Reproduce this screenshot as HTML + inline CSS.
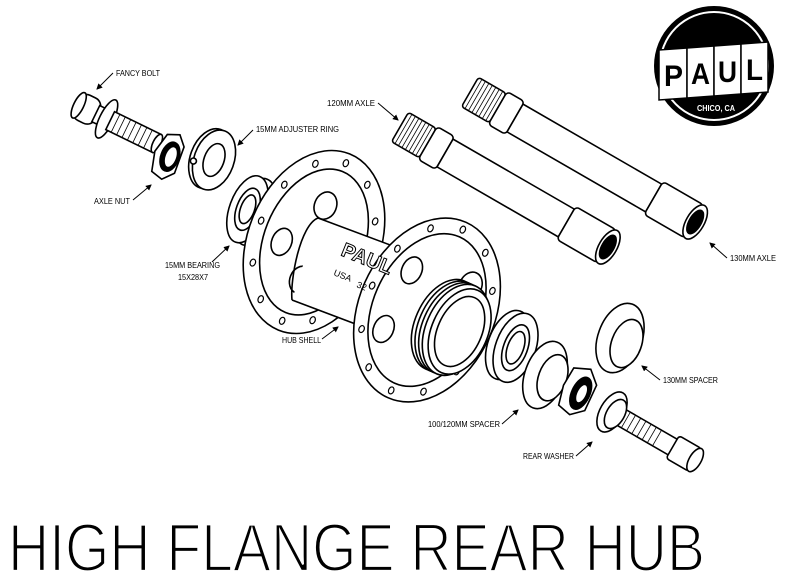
<!DOCTYPE html>
<html><head><meta charset="utf-8"><style>
html,body{margin:0;padding:0;background:#fff;}
svg{display:block;}
text{font-family:"Liberation Sans Narrow","Liberation Sans",sans-serif;}
</style></head><body>
<svg width="787" height="584" viewBox="0 0 787 584" xmlns="http://www.w3.org/2000/svg">
<defs>
<marker id="ah" markerWidth="6" markerHeight="6" refX="5" refY="3" orient="auto"><path d="M0,0 L6,3 L0,6 z" fill="#000"/></marker>
<g id="hole"><ellipse rx="2.6" ry="3.6" fill="#fff" stroke="#000" stroke-width="1.2"/></g>
</defs>
<g fill="#fff" stroke="#000" stroke-width="1.6">
<!-- 130mm axle -->
<g transform="translate(470,92) rotate(30)">
<rect x="0" y="-17" width="32" height="34" rx="3"/>
<g stroke-width="0.8"><line x1="4" y1="-17" x2="4" y2="17"/><line x1="8" y1="-17" x2="8" y2="17"/><line x1="12" y1="-17" x2="12" y2="17"/><line x1="16" y1="-17" x2="16" y2="17"/><line x1="20" y1="-17" x2="20" y2="17"/><line x1="24" y1="-17" x2="24" y2="17"/><line x1="28" y1="-17" x2="28" y2="17"/></g>
<rect x="32" y="-19" width="20" height="38" rx="4"/>
<rect x="52" y="-16" width="160" height="32"/>
<rect x="212" y="-19" width="47" height="38" rx="4"/>
<ellipse cx="260" cy="0" rx="9" ry="19"/>
<ellipse cx="260" cy="0" rx="6" ry="13" fill="#000"/>
</g>
<!-- 120mm axle -->
<g transform="translate(400,127) rotate(30)">
<rect x="0" y="-17" width="32" height="34" rx="3"/>
<g stroke-width="0.8"><line x1="4" y1="-17" x2="4" y2="17"/><line x1="8" y1="-17" x2="8" y2="17"/><line x1="12" y1="-17" x2="12" y2="17"/><line x1="16" y1="-17" x2="16" y2="17"/><line x1="20" y1="-17" x2="20" y2="17"/><line x1="24" y1="-17" x2="24" y2="17"/><line x1="28" y1="-17" x2="28" y2="17"/></g>
<rect x="32" y="-19" width="20" height="38" rx="4"/>
<rect x="52" y="-16" width="140" height="32"/>
<rect x="192" y="-19" width="47" height="38" rx="4"/>
<ellipse cx="240" cy="0" rx="9" ry="19"/>
<ellipse cx="240" cy="0" rx="6" ry="13" fill="#000"/>
</g>
<!-- fancy bolt -->
<g transform="translate(76,104) rotate(26)">
<rect x="0" y="-14" width="24" height="28" rx="9"/>
<ellipse cx="3" cy="0" rx="5" ry="14"/>
<rect x="22" y="-9" width="10" height="18"/>
<ellipse cx="34" cy="0" rx="7" ry="21"/>
<rect x="38" y="-10" width="52" height="20"/>
<g stroke-width="0.8"><line x1="44" y1="-10" x2="44" y2="10"/><line x1="50" y1="-10" x2="50" y2="10"/><line x1="56" y1="-10" x2="56" y2="10"/><line x1="62" y1="-10" x2="62" y2="10"/><line x1="68" y1="-10" x2="68" y2="10"/><line x1="74" y1="-10" x2="74" y2="10"/><line x1="80" y1="-10" x2="80" y2="10"/></g>
<ellipse cx="90" cy="0" rx="4" ry="10"/>
</g>
<!-- axle nut -->
<g transform="translate(168,156) rotate(20)">
<path d="M-8,-20 L4,-24 L12,-14 L12,14 L2,24 L-10,20 L-14,0 z"/>
<ellipse cx="2" cy="0" rx="9" ry="15" fill="#000"/>
<ellipse cx="3" cy="0" rx="6" ry="11"/>
</g>
<!-- adjuster ring -->
<g transform="translate(214,160) rotate(20)">
<ellipse cx="-4" cy="0" rx="20" ry="31"/>
<ellipse cx="0" cy="0" rx="20" ry="31"/>
<ellipse cx="0" cy="0" rx="10" ry="17"/>
<circle cx="-19" cy="8" r="3"/>
</g>
<!-- left bearing -->
<g transform="translate(255,212) rotate(20)">
<ellipse cx="0" cy="0" rx="18" ry="35"/>
<ellipse cx="-8" cy="0" rx="18" ry="35"/>
<ellipse cx="-8" cy="0" rx="11" ry="22"/>
<ellipse cx="-8" cy="0" rx="7" ry="15"/>
</g>
<!-- hub left flange -->
<g transform="translate(314,242) rotate(22)">
<ellipse cx="0" cy="0" rx="66" ry="95"/>
<ellipse cx="0" cy="0" rx="50" ry="76"/>
<ellipse cx="-3" cy="-38" rx="11" ry="14"/>
<ellipse cx="30" cy="-10" rx="10" ry="14"/>
<ellipse cx="-30" cy="12" rx="10" ry="14"/>
<ellipse cx="2" cy="40" rx="11" ry="14"/>
<use href="#hole" x="57" y="0"/><use href="#hole" x="49" y="42"/><use href="#hole" x="28" y="73"/><use href="#hole" x="0" y="85"/><use href="#hole" x="-28" y="73"/><use href="#hole" x="-49" y="42"/><use href="#hole" x="-57" y="0"/><use href="#hole" x="-49" y="-42"/><use href="#hole" x="-28" y="-73"/><use href="#hole" x="0" y="-85"/><use href="#hole" x="28" y="-73"/><use href="#hole" x="49" y="-42"/>
</g>
<!-- hub body -->
<path d="M318,218 L425,258 L398,340 L292,300 z" stroke="none"/>
<line x1="318" y1="218" x2="425" y2="258"/>
<line x1="292" y1="300" x2="398" y2="340"/>
<path d="M318,218 C300,225 290,280 292,300" fill="none"/>
<!-- hub right flange -->
<g transform="translate(427,310) rotate(24)">
<ellipse cx="0" cy="0" rx="68" ry="96"/>
<ellipse cx="0" cy="0" rx="54" ry="80"/>
<ellipse cx="-30" cy="-30" rx="10" ry="14"/>
<ellipse cx="30" cy="-40" rx="11" ry="14"/>
<ellipse cx="-32" cy="35" rx="10" ry="14"/>
<use href="#hole" x="60" y="0"/><use href="#hole" x="52" y="44"/><use href="#hole" x="30" y="76"/><use href="#hole" x="0" y="88"/><use href="#hole" x="-30" y="76"/><use href="#hole" x="-52" y="44"/><use href="#hole" x="-60" y="0"/><use href="#hole" x="-52" y="-44"/><use href="#hole" x="-30" y="-76"/><use href="#hole" x="0" y="-88"/><use href="#hole" x="30" y="-76"/><use href="#hole" x="52" y="-44"/>
</g>
<!-- threaded freehub -->
<g transform="translate(445,325) rotate(24)">
<ellipse cx="0" cy="0" rx="30" ry="48"/>
<ellipse cx="4" cy="0" rx="30" ry="48"/>
<ellipse cx="8" cy="0" rx="30" ry="48"/>
<ellipse cx="12" cy="0" rx="30" ry="48"/>
<ellipse cx="16" cy="0" rx="28" ry="45"/>
<ellipse cx="16" cy="0" rx="22" ry="37"/>
</g>
<!-- right bearing -->
<g transform="translate(508,345) rotate(20)">
<ellipse cx="0" cy="0" rx="20" ry="36"/>
<ellipse cx="8" cy="0" rx="20" ry="36"/>
<ellipse cx="8" cy="0" rx="12" ry="24"/>
<ellipse cx="8" cy="0" rx="8" ry="17"/>
</g>
<!-- 100/120 spacer -->
<g transform="translate(545,375) rotate(20)">
<ellipse cx="0" cy="0" rx="20" ry="35"/>
<ellipse cx="8" cy="0" rx="14" ry="24"/>
</g>
<!-- 130 spacer -->
<g transform="translate(620,338) rotate(20)">
<ellipse cx="0" cy="0" rx="22" ry="36"/>
<ellipse cx="8" cy="3" rx="15" ry="25"/>
</g>
<!-- nut -->
<g transform="translate(578,392) rotate(25)">
<path d="M-14,-20 L2,-26 L14,-14 L14,14 L2,24 L-12,20 L-16,0 z"/>
<ellipse cx="3" cy="0" rx="9" ry="17" fill="#000"/>
<ellipse cx="4" cy="0" rx="5" ry="10"/>
</g>
<!-- rear washer + bolt -->
<g transform="translate(612,412) rotate(30)">
<rect x="8" y="-9" width="80" height="18"/>
<g stroke-width="0.8"><line x1="16" y1="-9" x2="16" y2="9"/><line x1="22" y1="-9" x2="22" y2="9"/><line x1="28" y1="-9" x2="28" y2="9"/><line x1="34" y1="-9" x2="34" y2="9"/><line x1="40" y1="-9" x2="40" y2="9"/><line x1="46" y1="-9" x2="46" y2="9"/><line x1="52" y1="-9" x2="52" y2="9"/></g>
<rect x="70" y="-13" width="26" height="26" rx="3"/>
<ellipse cx="96" cy="0" rx="6" ry="13"/>
<ellipse cx="0" cy="0" rx="12" ry="22"/>
<ellipse cx="4" cy="0" rx="9" ry="16"/>
</g>
</g>
<!-- hub text -->
<text x="340" y="255" font-size="20" font-weight="bold" fill="#fff" stroke="#000" stroke-width="1" transform="rotate(22 340 255)">PAUL</text>
<text x="333" y="275" font-size="9" transform="rotate(22 333 275)">USA</text>
<text x="356" y="287" font-size="9" transform="rotate(22 356 287)">32</text>
<!-- logo -->
<circle cx="714" cy="66" r="60" fill="#000"/>
<circle cx="714" cy="66" r="54" fill="none" stroke="#fff" stroke-width="2"/>
<g fill="#fff" stroke="#000" stroke-width="1.5">
<polygon points="659,50 687,48 687,98 659,100"/>
<polygon points="687,48 714,46 714,96 687,98"/>
<polygon points="714,46 741,44 741,94 714,96"/>
<polygon points="741,44 768,42 768,92 741,94"/>
</g>
<g font-family="Liberation Sans" font-weight="bold" font-size="30" fill="#000">
<text x="664" y="86" textLength="19" lengthAdjust="spacingAndGlyphs">P</text><text x="691" y="84" textLength="19" lengthAdjust="spacingAndGlyphs">A</text><text x="718" y="82" textLength="19" lengthAdjust="spacingAndGlyphs">U</text><text x="746" y="80" textLength="17" lengthAdjust="spacingAndGlyphs">L</text>
</g>
<text x="697" y="111" font-size="8" font-weight="bold" fill="#fff" textLength="38" lengthAdjust="spacingAndGlyphs">CHICO, CA</text>
<!-- labels -->
<g font-size="8.5" fill="#000" stroke="none">
<text x="116" y="76" textLength="44" lengthAdjust="spacingAndGlyphs">FANCY BOLT</text>
<text x="327" y="106" textLength="48" lengthAdjust="spacingAndGlyphs">120MM AXLE</text>
<text x="256" y="132" textLength="83" lengthAdjust="spacingAndGlyphs">15MM ADJUSTER RING</text>
<text x="94" y="204" textLength="36" lengthAdjust="spacingAndGlyphs">AXLE NUT</text>
<text x="165" y="268" textLength="55" lengthAdjust="spacingAndGlyphs">15MM BEARING</text>
<text x="178" y="280" textLength="30" lengthAdjust="spacingAndGlyphs">15X28X7</text>
<text x="730" y="261" textLength="46" lengthAdjust="spacingAndGlyphs">130MM AXLE</text>
<text x="282" y="343" textLength="39" lengthAdjust="spacingAndGlyphs">HUB SHELL</text>
<text x="663" y="383" textLength="55" lengthAdjust="spacingAndGlyphs">130MM SPACER</text>
<text x="428" y="427" textLength="72" lengthAdjust="spacingAndGlyphs">100/120MM SPACER</text>
<text x="523" y="459" textLength="51" lengthAdjust="spacingAndGlyphs">REAR WASHER</text>
</g>
<g stroke="#000" stroke-width="1" fill="none" marker-end="url(#ah)">
<line x1="113" y1="73" x2="97" y2="89"/>
<line x1="378" y1="103" x2="398" y2="120"/>
<line x1="253" y1="130" x2="238" y2="145"/>
<line x1="133" y1="200" x2="151" y2="185"/>
<line x1="212" y1="262" x2="229" y2="246"/>
<line x1="727" y1="258" x2="710" y2="243"/>
<line x1="322" y1="339" x2="338" y2="327"/>
<line x1="660" y1="380" x2="642" y2="366"/>
<line x1="502" y1="424" x2="518" y2="410"/>
<line x1="576" y1="456" x2="592" y2="442"/>
</g>
<!-- title -->
<text x="8" y="571" font-family="Liberation Sans Narrow, Liberation Sans, sans-serif" font-size="68" fill="#000" stroke="#fff" stroke-width="2.2" textLength="697" lengthAdjust="spacingAndGlyphs">HIGH FLANGE REAR HUB</text>
</svg>
</body></html>
